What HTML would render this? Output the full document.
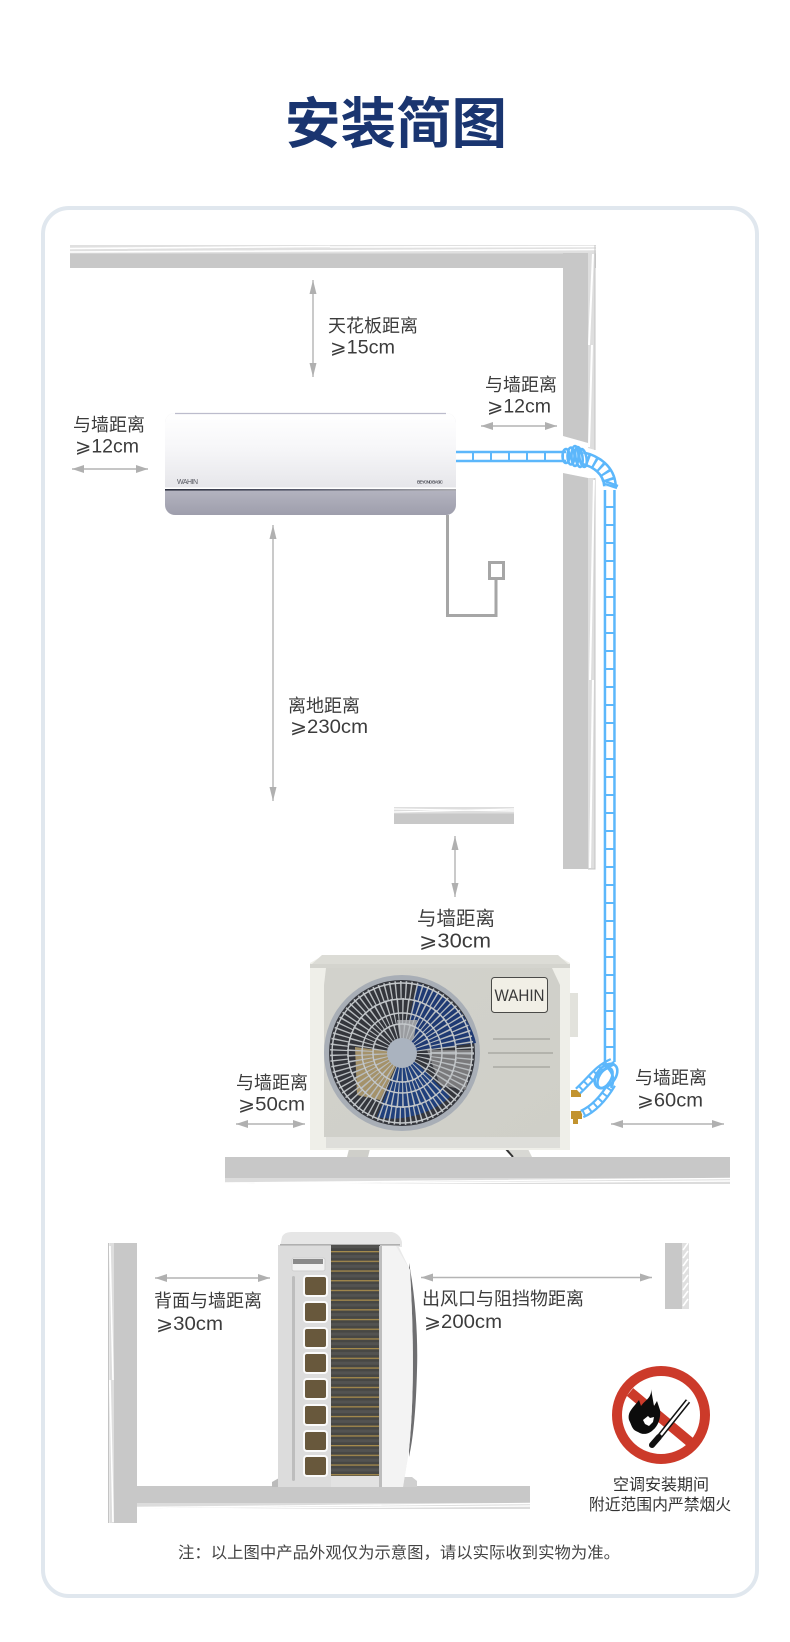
<!DOCTYPE html>
<html lang="zh"><head><meta charset="utf-8"><title>安装简图</title>
<style>
html,body{margin:0;padding:0;background:#fff}
svg{display:block}
text{font-family:"Liberation Sans","Noto Sans CJK SC",sans-serif;fill:#3c3c3c}
</style></head><body>
<svg width="790" height="1642" viewBox="0 0 790 1642" xmlns="http://www.w3.org/2000/svg">
<defs>
<linearGradient id="iu" x1="0" y1="0" x2="0" y2="1"><stop offset="0" stop-color="#fff"/><stop offset=".45" stop-color="#f7f7f9"/><stop offset="1" stop-color="#e6e6ea"/></linearGradient>
<linearGradient id="il" x1="0" y1="0" x2="0" y2="1"><stop offset="0" stop-color="#dedee2"/><stop offset=".75" stop-color="#b4b4c0"/><stop offset="1" stop-color="#9e9eac"/></linearGradient>
<linearGradient id="ln" x1="0" y1="0" x2="1" y2="0"><stop offset="0" stop-color="#2c2f3e"/><stop offset=".45" stop-color="#55586a"/><stop offset="1" stop-color="#a8a8ac"/></linearGradient>
<linearGradient id="fr" x1="0" y1="0" x2="1" y2="1"><stop offset="0" stop-color="#d2d2cc"/><stop offset="1" stop-color="#cfcfc8"/></linearGradient>
<pattern id="fin" width="48" height="9.7" patternUnits="userSpaceOnUse" y="1251"><rect width="48" height="9.7" fill="#474744"/><rect y="0" width="48" height="1.3" fill="#a58a4c"/><rect y="4" width="48" height="3" fill="#535351"/></pattern>
<marker id="a" viewBox="0 0 12 8" refX="12" refY="4" markerWidth="12" markerHeight="8" markerUnits="userSpaceOnUse" orient="auto-start-reverse"><path d="M0 0L12 4L0 8Z" fill="#b0b0b0"/></marker>
<marker id="v" viewBox="0 0 14 7" refX="14" refY="3.5" markerWidth="14" markerHeight="7" markerUnits="userSpaceOnUse" orient="auto-start-reverse"><path d="M0 0L14 3.5L0 7Z" fill="#b0b0b0"/></marker>
</defs>
<rect width="790" height="1642" fill="#fff"/>

<text x="396" y="143" font-size="55" font-weight="700" text-anchor="middle" style="fill:#1a3570" textLength="222" lengthAdjust="spacingAndGlyphs">安装简图</text>

<rect x="43" y="208" width="714" height="1388" rx="26" fill="#fff" stroke="#e0e7ee" stroke-width="4"/>

<!-- upper walls -->
<path d="M70 245H596V268H70Z" fill="#c8c8c8"/>
<rect x="70" y="245" width="526" height="8.5" fill="#e0e0e0"/>
<path d="M70 248.5L330 246.5M330 247L596 246.5M70 252L596 249.5" stroke="#fff" stroke-width="1.6"/>
<path d="M563 253H588V443L563 436Z" fill="#c8c8c8"/>
<path d="M563 473L588 478V869H563Z" fill="#c8c8c8"/>
<path d="M588 253H595V450L588 448Z" fill="#dedede"/>
<path d="M588 478H595V869H588Z" fill="#dedede"/>
<path d="M595 245V450M595 478V869H588" stroke="#c4c4c4" fill="none"/>
<path d="M593 254L589 345M592 345L589 447M594 480L590 680M593 680L590 868" stroke="#fff" stroke-width="2" fill="none"/>

<!-- shelf -->
<rect x="394" y="807" width="120" height="17" fill="#c8c8c8"/>
<rect x="394" y="807" width="120" height="6.5" fill="#dedede"/>
<path d="M394 809L514 811M394 812L514 809" stroke="#fff" stroke-width="1.2"/>

<!-- indoor unit -->
<rect x="165" y="413" width="291" height="102" rx="10" fill="url(#il)"/>
<path d="M165 488V423a10 10 0 0 1 10-10H446a10 10 0 0 1 10 10V488Z" fill="url(#iu)"/>
<path d="M175 413.5H446" stroke="#bcbccc" stroke-width="1.2"/>
<rect x="165" y="487.5" width="291" height="1.5" fill="#fff"/>
<rect x="165" y="489" width="291" height="1.6" fill="url(#ln)"/>
<text x="177" y="484" font-size="7" style="fill:#55565e" textLength="21">WAHIN</text>
<text x="417" y="483.5" font-size="4.5" font-weight="700" style="fill:#55565e" textLength="26">BEYOND BASIC</text>

<!-- cable and socket -->
<path d="M447.5 515V615.5H496V579" stroke="#a6a6a6" stroke-width="3" fill="none"/>
<rect x="489.5" y="562.5" width="14" height="16" fill="#fff" stroke="#a6a6a6" stroke-width="3"/>

<!-- arrows upper -->
<path d="M313 280V377" stroke="#b4b4b4" stroke-width="1.4" marker-start="url(#v)" marker-end="url(#v)"/>
<path d="M481 426H557" stroke="#b4b4b4" stroke-width="1.6" marker-start="url(#a)" marker-end="url(#a)"/>
<path d="M72 469H148" stroke="#b4b4b4" stroke-width="1.6" marker-start="url(#a)" marker-end="url(#a)"/>
<path d="M273 525V801" stroke="#b4b4b4" stroke-width="1.4" marker-start="url(#v)" marker-end="url(#v)"/>
<path d="M455 836V897" stroke="#b4b4b4" stroke-width="1.4" marker-start="url(#v)" marker-end="url(#v)"/>

<!-- labels -->
<text x="328" y="332" font-size="18">天花板距离</text><text x="330" y="353.5" font-size="19" textLength="65" lengthAdjust="spacingAndGlyphs">⩾15cm</text>
<text x="485" y="391" font-size="18">与墙距离</text><text x="487" y="412.5" font-size="19" textLength="64" lengthAdjust="spacingAndGlyphs">⩾12cm</text>
<text x="73" y="431" font-size="18">与墙距离</text><text x="75" y="452.5" font-size="19" textLength="64" lengthAdjust="spacingAndGlyphs">⩾12cm</text>
<text x="288" y="712" font-size="18">离地距离</text><text x="290" y="733" font-size="19" textLength="78" lengthAdjust="spacingAndGlyphs">⩾230cm</text>
<text x="417" y="925" font-size="19.5">与墙距离</text><text x="419" y="947.5" font-size="20" textLength="72" lengthAdjust="spacingAndGlyphs">⩾30cm</text>
<text x="236" y="1089" font-size="18">与墙距离</text><text x="238" y="1110.5" font-size="19" textLength="67" lengthAdjust="spacingAndGlyphs">⩾50cm</text>
<text x="635" y="1084" font-size="18">与墙距离</text><text x="637" y="1106.5" font-size="19" textLength="66" lengthAdjust="spacingAndGlyphs">⩾60cm</text>
<text x="154" y="1307" font-size="18">背面与墙距离</text><text x="156" y="1330" font-size="19" textLength="67" lengthAdjust="spacingAndGlyphs">⩾30cm</text>
<text x="422" y="1305" font-size="18">出风口与阻挡物距离</text><text x="424" y="1328" font-size="19" textLength="78" lengthAdjust="spacingAndGlyphs">⩾200cm</text>

<!-- outdoor unit -->
<path d="M570 993H578V1037H570Z" fill="#e2e2dc"/>
<path d="M349 1149H370L368 1157H347Z" fill="#cfcfca"/>
<path d="M506 1149H528L532 1157H514Z" fill="#d8d8d4"/>
<path d="M506 1149L513 1157" stroke="#333" stroke-width="2"/>
<path d="M310 963L324 955H556L570 963V1150H310Z" fill="#efefe9"/>
<path d="M310 964H570V968H310Z" fill="#d4d4ce"/>
<path d="M322 955H558L568 964H312Z" fill="#dcdcd6"/>
<path d="M326 968H552L560 985V1137H324V985Z" fill="url(#fr)"/>
<rect x="326" y="1137" width="234" height="11" fill="#dededa"/>
<circle cx="402" cy="1053" r="78" fill="#a8aeb6"/>
<circle cx="402" cy="1053" r="73" fill="#34363c"/>
<path d="M402 1053L417 983C445 992 470 1015 476 1043Z" fill="#1f3a73"/>
<path d="M402 1053L417 1063L450 1097C430 1115 400 1122 377 1117Z" fill="#20407c"/>
<path d="M402 1053L380 1100L357 1095L355 1047Z" fill="#a4926a"/>
<path d="M402 1053L397 1020L417 1020L414 1037Z" fill="#9a9ca0"/>
<path d="M427 1050L473 1050L466 1090L440 1085Z" fill="#7a7a7c"/>
<circle cx="402" cy="1053" r="63" fill="none" stroke="#b9bdc0" stroke-width="18" stroke-dasharray="1.4 3.6"/>
<circle cx="402" cy="1053" r="42" fill="none" stroke="#b9bdc0" stroke-width="26" stroke-dasharray="1.3 3.3"/>
<circle cx="402" cy="1053" r="22" fill="none" stroke="#b9bdc0" stroke-width="16" stroke-dasharray="1.2 3"/>
<g fill="none" stroke="#c4c8cb" stroke-width="1.4">
<circle cx="402" cy="1053" r="70"/><circle cx="402" cy="1053" r="54"/><circle cx="402" cy="1053" r="40"/><circle cx="402" cy="1053" r="29"/>
</g>
<circle cx="402" cy="1053" r="15" fill="#aab3bf"/>
<rect x="491.5" y="977.5" width="56" height="35" rx="3" fill="#f1efe6" stroke="#4a4a48"/>
<text x="519.5" y="1001" font-size="17" text-anchor="middle" style="fill:#3a3a3a" textLength="50" lengthAdjust="spacingAndGlyphs">WAHIN</text>
<path d="M493 1039H550M488 1053H553M493 1067H550" stroke="#a9a9a3" stroke-width="1.5"/>

<!-- valves -->
<path d="M571 1090h10v7h-10ZM571 1111h11v8h-4v5h-5v-5h-2Z" fill="#c2932f"/>

<!-- tube -->
<g fill="none" stroke="#5cb7fb">
<path d="M456 456.5H566" stroke-width="11.5"/>
<path d="M456 456.5H566" stroke="#fff" stroke-width="6.5" stroke-dasharray="16 2"/>
<path d="M582 458C596 461 609 470 610 486" stroke-width="14"/>
<path d="M582 458C596 461 609 470 610 486" stroke="#fff" stroke-width="9" stroke-dasharray="5 2.5"/>
<path d="M609.7 490V1062" stroke-width="12"/>
<path d="M609.7 490V1062" stroke="#fff" stroke-width="7" stroke-dasharray="16 2"/>
<g stroke-width="2.6">
<ellipse cx="566" cy="456" rx="3.5" ry="7"/><ellipse cx="571" cy="456" rx="3.5" ry="8.5"/><ellipse cx="575" cy="456" rx="3.5" ry="10"/><ellipse cx="579" cy="457" rx="3.5" ry="10" transform="rotate(-8 579 457)"/><ellipse cx="583" cy="458" rx="3.5" ry="9" transform="rotate(-10 583 458)"/>
</g>
<path d="M602 480L618 486M605 484L617 488" stroke-width="2.4"/>
<path d="M612 1062C598 1068 592 1078 578 1091" stroke-width="8.5"/>
<path d="M612 1062C598 1068 592 1078 578 1091" stroke="#fff" stroke-width="4" stroke-dasharray="5 2"/>
<path d="M612 1084C606 1094 596 1108 582 1114" stroke-width="9"/>
<path d="M612 1084C606 1094 596 1108 582 1114" stroke="#fff" stroke-width="4.5" stroke-dasharray="5 2"/>
<g stroke-width="2.6">
<ellipse cx="606" cy="1076" rx="9" ry="14" transform="rotate(40 606 1076)"/>
<ellipse cx="605" cy="1078" rx="6" ry="11" transform="rotate(30 605 1078)"/>
<path d="M603 1064C612 1070 616 1078 611 1088M598 1074L614 1062"/>
</g>
</g>

<!-- arrows lower -->
<path d="M236 1124H305" stroke="#b4b4b4" stroke-width="1.6" marker-start="url(#a)" marker-end="url(#a)"/>
<path d="M611 1124H724" stroke="#b4b4b4" stroke-width="1.6" marker-start="url(#a)" marker-end="url(#a)"/>
<path d="M155 1278H270" stroke="#b4b4b4" stroke-width="1.6" marker-start="url(#a)" marker-end="url(#a)"/>
<path d="M421 1277.5H652" stroke="#b4b4b4" stroke-width="1.6" marker-start="url(#a)" marker-end="url(#a)"/>

<!-- ground -->
<rect x="225" y="1157" width="505" height="27" fill="#c8c8c8"/>
<rect x="225" y="1178" width="505" height="6" fill="#dcdcdc"/>
<path d="M225 1183L730 1178.5M225 1184L730 1181" stroke="#fff" stroke-width="1.4"/>

<!-- lower left walls -->
<rect x="108" y="1243" width="29" height="280" fill="#c8c8c8"/>
<rect x="108" y="1243" width="6" height="280" fill="#dedede"/>
<path d="M108.5 1243V1523M110 1246L113 1380M110 1380L113 1522" stroke="#fff" stroke-width="1.6" fill="none"/>
<path d="M108.5 1243V1523" stroke="#c4c4c4"/>
<rect x="137" y="1486" width="393" height="23" fill="#c8c8c8"/>
<rect x="137" y="1503" width="393" height="6" fill="#dcdcdc"/>
<path d="M137 1507.5L530 1503.5M137 1509L530 1506" stroke="#fff" stroke-width="1.4"/>
<!-- right block -->
<rect x="665" y="1243" width="24" height="66" fill="#c8c8c8"/>
<rect x="682" y="1243" width="7" height="66" fill="#e0e0e0"/>
<path d="M683 1250L688 1243M683 1258L688 1251M683 1266L688 1259M683 1274L688 1267M683 1282L688 1275M683 1290L688 1283M683 1298L688 1291M683 1306L688 1299" stroke="#fff" stroke-width="1.6"/>

<!-- rear unit -->
<path d="M272 1487V1482L279 1478H282V1487Z" fill="#bbb"/>
<path d="M403 1487V1477H412L417 1481V1487Z" fill="#d0d0d0"/>
<path d="M409 1263C416 1300 418 1340 417 1370C416 1410 413 1440 409 1457Z" fill="#6e6e70"/>
<path d="M280 1247L282 1237Q284 1232 292 1232H392Q400 1234 402 1242V1247Z" fill="#e6e6e6"/>
<path d="M278 1245H398L410 1270C414 1340 414 1400 409 1450L403 1487H278Z" fill="#e9e9e9"/>
<path d="M382 1246H396L410 1270C414 1340 414 1400 409 1450L403 1487H382Z" fill="#f3f3f3"/>
<rect x="278" y="1245" width="53" height="242" fill="#dcdcdc"/>
<rect x="280" y="1244" width="120" height="1.6" fill="#b0b0b0"/>
<rect x="331" y="1245" width="49" height="231" fill="url(#fin)"/>
<rect x="331" y="1476" width="49" height="11" fill="#e2e2e2"/>
<rect x="379" y="1246" width="3" height="241" fill="#bdbdbd"/>
<rect x="292" y="1258" width="33" height="13" rx="2" fill="#f2f2f2" stroke="#cfcfcf"/>
<rect x="293" y="1259" width="30" height="5" fill="#8a8a8a"/>
<rect x="292" y="1276" width="3" height="205" rx="1.5" fill="#bdbdbd"/>
<g fill="#68583c" stroke="#fafafa" stroke-width="2">
<rect x="304" y="1276" width="23" height="20" rx="3"/><rect x="304" y="1302" width="23" height="20" rx="3"/><rect x="304" y="1328" width="23" height="20" rx="3"/><rect x="304" y="1353" width="23" height="20" rx="3"/><rect x="304" y="1379" width="23" height="20" rx="3"/><rect x="304" y="1405" width="23" height="20" rx="3"/><rect x="304" y="1431" width="23" height="20" rx="3"/><rect x="304" y="1456" width="23" height="20" rx="3"/>
</g>

<!-- no fire sign -->
<circle cx="661" cy="1415" r="44" fill="#fff" stroke="#cc3a2a" stroke-width="10"/>
<path d="M630 1392L690 1442" stroke="#cc3a2a" stroke-width="10"/>
<path d="M651 1389C652 1398 645 1400 641 1406L639 1400C633 1408 627 1412 629 1420C632 1426 632 1430 638 1432C644 1436 650 1433 653 1430C658 1426 661 1418 660 1410L657 1401L654 1406Z" fill="#0c0c0c"/>
<path d="M643 1420L648 1416L650 1418L654 1417L653 1422L649 1426L645 1424Z" fill="#fff"/>
<path d="M688 1401L660 1436" stroke="#111" stroke-width="5.5"/>
<path d="M688 1401L660 1436" stroke="#fff" stroke-width="2.5"/>
<path d="M659 1437L652 1445" stroke="#111" stroke-width="6" stroke-linecap="round"/>

<text x="661" y="1490" font-size="16" text-anchor="middle" style="fill:#333">空调安装期间</text>
<text x="660" y="1510" font-size="15.8" text-anchor="middle" style="fill:#333">附近范围内严禁烟火</text>
<text x="178" y="1558" font-size="16" style="fill:#444" textLength="442" lengthAdjust="spacingAndGlyphs">注：以上图中产品外观仅为示意图，请以实际收到实物为准。</text>
</svg>
</body></html>
